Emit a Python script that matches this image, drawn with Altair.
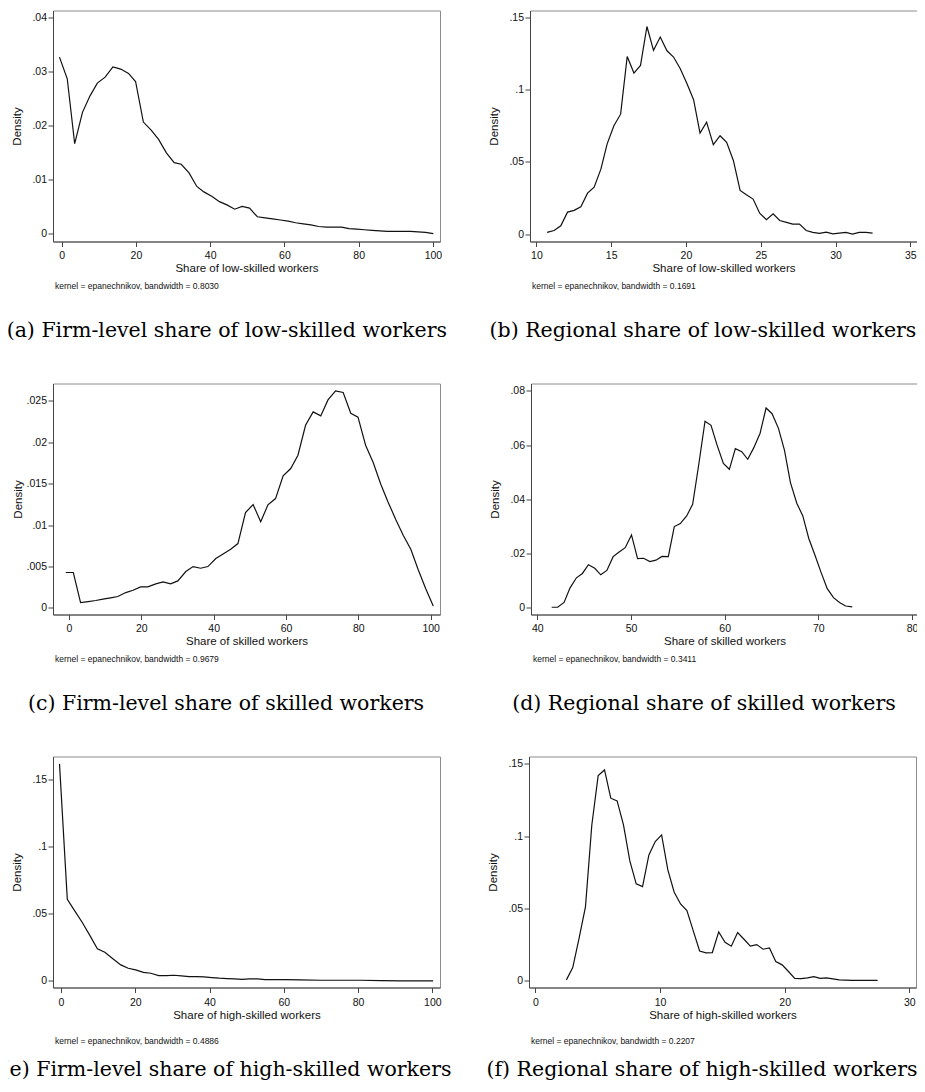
import altair as alt
import pandas as pd

# ---------------- data ----------------
# (a) Firm-level share of low-skilled workers
a_x = [-0.6, 1.5, 3.5, 5.6, 7.6, 9.6, 11.7, 13.8, 15.9, 18.0, 19.9, 22.0, 24.1, 26.1, 28.2,
       30.3, 32.2, 34.3, 36.4, 38.3, 40.4, 42.5, 44.5, 46.6, 48.6, 50.6, 52.7, 54.8, 56.8, 58.9,
       61.0, 63.0, 65.1, 67.1, 69.2, 71.3, 73.3, 75.4, 77.4, 79.5, 81.5, 83.6, 85.7, 87.7, 89.8,
       91.8, 93.9, 96.0, 98.0, 100.1]
a_y = [.0326, .0286, .0166, .0224, .0254, .0278, .0289, .0308, .0304, .0296, .0281, .0206, .0191,
       .0174, .0149, .0131, .0128, .0112, .0087, .0077, .0069, .0059, .0053, .0045, .0050, .0047,
       .0031, .0029, .0027, .0025, .0023, .0020, .0018, .0016, .0013, .0012, .0012, .0012, .0009,
       .0008, .0007, .0006, .0005, .0004, .0004, .0004, .0004, .0003, .0002, .0000]

# (b) Regional share of low-skilled workers
b_x = [10.71, 11.18, 11.63, 12.08, 12.52, 12.97, 13.42, 13.86, 14.31, 14.73, 15.18, 15.63, 16.07,
       16.52, 16.96, 17.39, 17.83, 18.28, 18.73, 19.17, 19.62, 20.07, 20.51, 20.94, 21.38, 21.83,
       22.28, 22.72, 23.17, 23.62, 24.04, 24.49, 24.93, 25.38, 25.83, 26.27, 26.72, 27.14, 27.59,
       28.04, 28.48, 28.93, 29.38, 29.82, 30.25, 30.69, 31.14, 31.58, 32.03, 32.48]
b_y = [.0012, .0025, .0058, .0152, .0164, .0189, .0283, .0325, .0449, .0624, .0749, .0829, .1228,
       .1113, .1166, .1435, .1270, .1362, .1267, .1224, .1143, .1039, .0929, .0698, .0774, .0618,
       .0680, .0634, .0509, .0302, .0272, .0242, .0145, .0099, .0141, .0094, .0081, .0069, .0069,
       .0025, .0012, .0005, .0014, .0002, .0007, .0012, .0000, .0012, .0012, .0007]

# (c) Firm-level share of skilled workers
c_x = [-0.9, 1.2, 3.2, 5.3, 7.4, 9.4, 11.5, 13.5, 15.7, 17.7, 19.8, 21.8, 24.0, 26.0, 28.1, 30.1,
       32.3, 34.3, 36.4, 38.4, 40.6, 42.6, 44.7, 46.7, 48.8, 50.9, 53.0, 55.0, 57.1, 59.2, 61.3,
       63.3, 65.4, 67.5, 69.6, 71.6, 73.7, 75.8, 77.9, 79.9, 82.0, 84.1, 86.2, 88.2, 90.3, 92.4,
       94.5, 96.5, 98.6, 100.7]
c_y = [.00427, .00427, .00064, .00076, .00089, .00105, .00121, .00137, .00185, .00213, .00254,
       .00254, .00290, .00314, .00290, .00326, .00439, .00499, .00479, .00499, .00596, .00652,
       .00709, .00777, .01151, .01248, .01039, .01244, .01320, .01594, .01683, .01844, .02206,
       .02367, .02319, .02512, .02621, .02601, .02351, .02303, .01965, .01755, .01494, .01280,
       .01071, .00878, .00709, .00467, .00233, .00024]

# (d) Regional share of skilled workers
d_x = [41.53, 42.17, 42.85, 43.49, 44.17, 44.81, 45.45, 46.13, 46.77, 47.42, 48.09, 48.73, 49.38,
       50.05, 50.70, 51.34, 52.01, 52.66, 53.30, 53.98, 54.62, 55.26, 55.94, 56.58, 57.22, 57.90,
       58.54, 59.18, 59.86, 60.50, 61.14, 61.82, 62.46, 63.10, 63.78, 64.42, 65.06, 65.74, 66.38,
       67.02, 67.70, 68.34, 68.98, 69.66, 70.30, 70.95, 71.62, 72.26, 72.91, 73.62]
d_y = [.00025, .00025, .0020, .0074, .0111, .0127, .0159, .0146, .0122, .0138, .0189, .0206,
       .0222, .0269, .0182, .0183, .0171, .0176, .0190, .0189, .0300, .0311, .0339, .0382, .0526,
       .0688, .0673, .0601, .0533, .0511, .0587, .0576, .0548, .0590, .0644, .0737, .0716, .0662,
       .0582, .0462, .0386, .0339, .0256, .0192, .0130, .0071, .0038, .0020, .0007, .0004]

# (e) Firm-level share of high-skilled workers
e_x = [-0.4, 1.7, 3.7, 5.7, 7.8, 9.8, 11.8, 13.8, 16.1, 18.1, 20.1, 22.2, 24.2, 26.3, 28.4, 30.4,
       32.4, 34.5, 36.5, 38.5, 40.6, 42.6, 44.7, 46.8, 48.7, 50.8, 52.9, 54.9, 60.1, 64.5, 69.9,
       75.3, 80.7, 86.1, 91.5, 100.2]
e_y = [.1614, .0607, .0521, .0436, .0337, .0238, .0213, .0169, .0119, .0094, .0082, .0064, .0057,
       .0040, .0040, .0042, .0037, .0032, .0032, .0030, .0025, .0020, .0017, .0015, .0012, .0015,
       .0015, .0010, .0009, .0007, .0005, .0005, .0005, .0002, .0000, .0000]

# (f) Regional share of high-skilled workers
f_x = [2.49, 3.00, 3.51, 4.02, 4.53, 5.04, 5.55, 6.05, 6.56, 7.07, 7.58, 8.09, 8.60, 9.11, 9.62,
       10.13, 10.63, 11.14, 11.65, 12.16, 12.67, 13.18, 13.69, 14.20, 14.71, 15.22, 15.72, 16.23,
       16.74, 17.25, 17.76, 18.27, 18.78, 19.29, 19.80, 20.31, 20.81, 21.32, 21.83, 22.34, 22.85,
       23.36, 23.87, 24.38, 24.89, 25.39, 25.90, 26.41, 26.92, 27.46]
f_y = [.0007, .0092, .0295, .0512, .1078, .1419, .1458, .1263, .1244, .1078, .0829, .0671, .0652,
       .0871, .0963, .1009, .0767, .0613, .0532, .0486, .0346, .0207, .0194, .0196, .0339, .0267,
       .0240, .0334, .0288, .0240, .0251, .0219, .0228, .0134, .0111, .0065, .0018, .0016, .0021,
       .0030, .0018, .0021, .0014, .0007, .0005, .0003, .0003, .0003, .0003, .0003]

# axis ticks
ticks_0_100 = [0, 20, 40, 60, 80, 100]
a_yticks = [0, 0.01, 0.02, 0.03, 0.04]
b_xticks = [10, 15, 20, 25, 30, 35]
y_15 = [0, 0.05, 0.1, 0.15]
c_yticks = [0, 0.005, 0.01, 0.015, 0.02, 0.025]
d_xticks = [40, 50, 60, 70, 80]
d_yticks = [0, 0.02, 0.04, 0.06, 0.08]
f_xticks = [0, 10, 20, 30]

# texts
x_low = "Share of low-skilled workers"
x_mid = "Share of skilled workers"
x_high = "Share of high-skilled workers"
notes = ["kernel = epanechnikov, bandwidth = 0.8030",
         "kernel = epanechnikov, bandwidth = 0.1691",
         "kernel = epanechnikov, bandwidth = 0.9679",
         "kernel = epanechnikov, bandwidth = 0.3411",
         "kernel = epanechnikov, bandwidth = 0.4886",
         "kernel = epanechnikov, bandwidth = 0.2207"]
captions = ["(a) Firm-level share of low-skilled workers",
            "(b) Regional share of low-skilled workers",
            "(c) Firm-level share of skilled workers",
            "(d) Regional share of skilled workers",
            "(e) Firm-level share of high-skilled workers",
            "(f) Regional share of high-skilled workers"]

SANS = "Liberation Sans"
SERIF = "DejaVu Serif"
YLAB = "datum.value == 0 ? '0' : replace(format(datum.value, '.3~f'), '0.', '.')"


def panel(xs, ys, xdom, ydom, xticks, yticks, xtitle, note, caption,
          lab_pad=3.5, note_off=8, cap_off=30.4, ytitle_pad=9, width=387, height=231):
    df = pd.DataFrame({"x": xs, "y": ys})
    line = alt.Chart(df).mark_line(color="#111111", strokeWidth=1.2, clip=True).encode(
        x=alt.X("x:Q", scale=alt.Scale(domain=xdom, nice=False, zero=False),
                axis=alt.Axis(values=xticks, title=xtitle, format="d", labelPadding=lab_pad,
                              titlePadding=1.5, labelFlush=False)),
        y=alt.Y("y:Q", scale=alt.Scale(domain=ydom, nice=False, zero=False),
                axis=alt.Axis(values=yticks, title="Density", labelExpr=YLAB,
                              labelPadding=1.5, titlePadding=ytitle_pad)),
    ).properties(
        width=width, height=height,
        title=alt.TitleParams(text=note, orient="bottom", anchor="start", frame="group",
                              font=SANS, fontSize=8.5, fontWeight="normal", color="#111111",
                              offset=note_off, dx=2),
    )
    return alt.vconcat(
        line,
        title=alt.TitleParams(text=caption, orient="bottom", anchor="middle", frame="bounds",
                              font=SERIF, fontSize=20.5, fontWeight="normal", color="#000000",
                              offset=cap_off),
    )


pa = panel(a_x, a_y, [-2.34, 101.9], [-0.00147, 0.04122], ticks_0_100, a_yticks, x_low, notes[0], captions[0])
pb = panel(b_x, b_y, [9.57, 35.45], [-0.0051, 0.15456], b_xticks, y_15, x_low, notes[1], captions[1])
pc = panel(c_x, c_y, [-4.42, 102.57], [-0.0008, 0.0271], ticks_0_100, c_yticks, x_mid, notes[2], captions[2],
           ytitle_pad=3)
pd_ = panel(d_x, d_y, [39.32, 80.64], [-0.00243, 0.08273], d_xticks, d_yticks, x_mid, notes[3], captions[3])
pe = panel(e_x, e_y, [-2.15, 102.05], [-0.0049, 0.16688], ticks_0_100, y_15, x_high, notes[4], captions[4],
           lab_pad=4.5, note_off=16.4, cap_off=13.6)
pf = panel(f_x, f_y, [-0.51, 30.54], [-0.00456, 0.15511], f_xticks, y_15, x_high, notes[5], captions[5],
           lab_pad=4.5, note_off=16.4, cap_off=13.6)

row1 = alt.hconcat(pa, pb, spacing=41)
row2 = alt.hconcat(pc, pd_, spacing=48)
row3 = alt.hconcat(pe, pf, spacing=34)

chart = alt.vconcat(row1, row2, row3, spacing=41).properties(
    padding={"left": -7, "top": 1.5, "right": -2, "bottom": 0}
).configure_view(
    stroke="#8c8c8c", strokeWidth=1
).configure_axis(
    grid=False, domainColor="#444444", domainWidth=1, tickColor="#444444", tickWidth=1,
    tickSize=5, labelFont=SANS, labelFontSize=10.5, labelColor="#111111",
    titleFont=SANS, titleFontSize=11.5, titleFontWeight="normal", titleColor="#111111"
).configure_title(
    fontWeight="normal"
)

chart.save("out.html", embed_options={"renderer": "svg", "actions": False})
